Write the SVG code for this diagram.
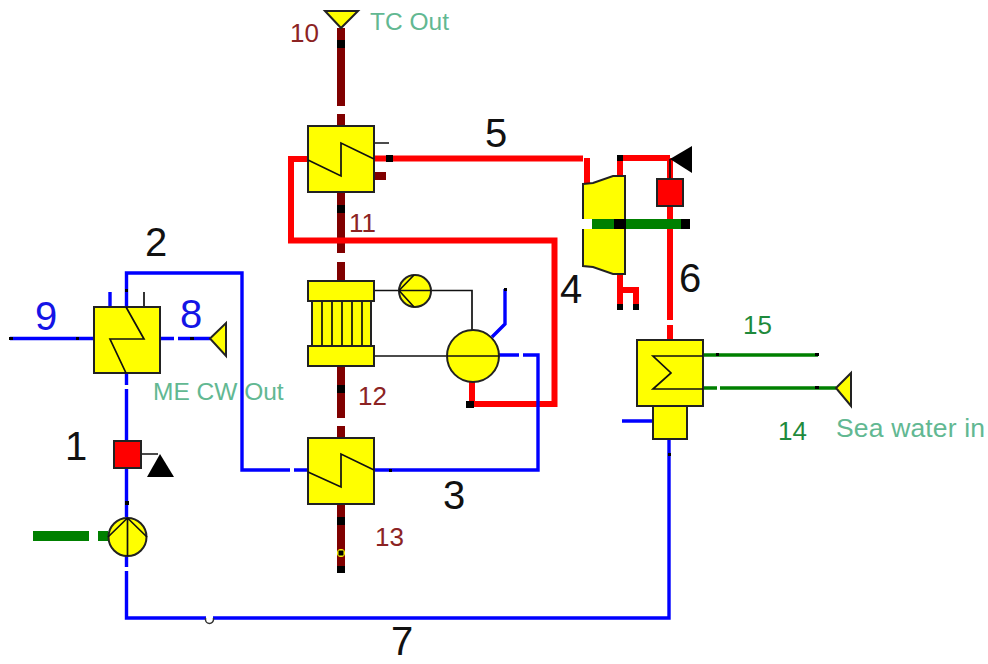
<svg xmlns="http://www.w3.org/2000/svg" width="988" height="664" viewBox="0 0 988 664">
<style>
text{font-family:"Liberation Sans",Arial,sans-serif}
.big{font-size:40px;fill:#111}
.bl{font-size:40px;fill:#1414e6}
.dr{font-size:26px;fill:#8c2323}
.gn{font-size:26px;fill:#1f8a3c}
.lb{font-size:24.500px;fill:#62b892}
.eq{fill:#ff0;stroke:#222;stroke-width:2}
.v{fill:#f00;stroke:#222;stroke-width:2}
.t{fill:none;stroke:#111;stroke-width:1.700}
.blue{fill:none;stroke:#00f;stroke-width:3.400}
.red{fill:none;stroke:#f00;stroke-width:6}
.dred{fill:none;stroke:#800000;stroke-width:8}
.grn{fill:none;stroke:#008000;stroke-width:3.400}
.gth{fill:none;stroke:#008000;stroke-width:10}
.k{fill:#000}
</style>
<g id="connectors">
<path class="dred" d="M341 28V106M341 114V126M341 192V253M341 262V281M341 366V418M341 426V438M341 504V573"/>
<path class="red" d="M374 158.500H583M587 158V184M308 159H291V240.500H554.500V404H472V382M620 176V158H670M670 158V340"/>
<rect x="664" y="320" width="12" height="5" fill="#fff"/>
<path class="red" d="M620 274V310M620 290H636V310"/>
<path class="dred" d="M374 176H386"/>
<path class="t" d="M374 143H389M374 290.500H472V330M374 356H446M141 454H158M144 307V292M670 159V179"/>
<path class="blue" d="M10 338.500H94M160 338.500H174M178 338.500H210M110 307V292M126.500 307V273H242V470H290M294 470H308M374 470H538V355H523M519 355H499M492 337L505 324V289M126.500 373V385M126.500 389V441M126.500 468V517M126.500 556V567M126.500 571V618H206M213 618H669V439M622 421H653"/>
<path d="M205.500 618v1.500a3.500 3.500 0 0 0 8 0v-1.500" fill="#fff" stroke="#333" stroke-width="1.500"/>
<path class="grn" d="M703 355H818M703 388H717M720 388H836"/>
<path class="gth" d="M33 536H89M98 536H108"/>
<path class="k" d="M337 40h8v8h-8zM337 205h8v8h-8zM337 385h8v8h-8zM337 517h8v8h-8zM337 566h8v7h-8zM386 155h7v7h-7zM466 401h8v7h-8zM617 155h6v6h-6zM617 304h6v6h-6zM633 304h6v6h-6zM125 289h3v3h-3zM9 337h4v3h-4zM76 337h3v3h-3zM190 337h4v3h-4zM125 501h4v4h-4zM389 469h3v3h-3zM504 288h3v3h-3zM716 353h3v3h-3zM815 353h4v3h-4zM815 386h4v3h-4zM668 453h3v3h-3z"/>
<circle cx="341" cy="553" r="4" fill="#ff0"/><rect x="338.500" y="550.500" width="5" height="5" fill="#000"/>
</g>
<g id="sink-tc-out"><path class="eq" d="M325 11H358L341 28Z"/></g>
<g id="hx-upper"><rect class="eq" x="308" y="126" width="66" height="66"/><path class="t" d="M308 160L341 176V143L374 159"/></g>
<g id="cooler">
<rect class="eq" x="312" y="300" width="59" height="46"/>
<path class="t" d="M322 300V346M332 300V346M342 300V346M352 300V346M362 300V346"/>
<rect class="eq" x="308" y="281" width="66" height="20"/>
<rect class="eq" x="308" y="346" width="66" height="20"/>
</g>
<g id="small-pump"><circle class="eq" cx="415" cy="291" r="16"/><path class="t" d="M399 290.500H431M399 290.500L414 275M399 290.500L414 307"/></g>
<g id="drum"><circle class="eq" cx="473" cy="356" r="26"/><path class="t" d="M447 356H499"/></g>
<g id="hx-lower"><rect class="eq" x="308" y="438" width="66" height="66"/><path class="t" d="M308 472L341 487V454L374 470"/></g>
<g id="hx-left"><rect class="eq" x="94" y="307" width="66" height="66"/><path class="t" d="M126 307L144 339H110L126 373"/></g>
<g id="sink-me-cw"><path class="eq" d="M210 338.500L226 323V356Z"/></g>
<g id="valve-1"><rect class="v" x="114" y="441" width="27" height="27"/></g>
<g id="actuator-1"><path class="k" d="M147 477L160 454L174 477Z"/></g>
<g id="pump-1"><circle class="eq" cx="127.500" cy="537" r="19"/><path class="t" d="M127.500 518V556M127.500 518L108 537M127.500 518L147 537"/></g>
<g id="turbine"><path class="eq" d="M583 184L593 183L613 176H625V274H613L593 267L583 266Z"/><rect x="581" y="219" width="12" height="10" fill="#fff"/></g>
<g id="shaft"><path class="gth" d="M592 224H690"/><path class="k" d="M614 219h12v10h-12zM681 219h9v10h-9z"/></g>
<g id="valve-6"><rect class="v" x="657" y="179" width="26" height="27"/></g>
<g id="actuator-6"><path class="k" d="M670 159L692 146V173Z"/></g>
<g id="condenser"><rect class="eq" x="653" y="406" width="34" height="33"/><rect class="eq" x="637" y="340" width="66" height="66"/><path class="t" d="M703 356H653L671 373L653 389H703"/></g>
<g id="sink-sea"><path class="eq" d="M836 388L851 373V406Z"/></g>
<g id="labels">
<text class="dr" x="290" y="42">10</text>
<text class="lb" x="370" y="30">TC Out</text>
<text class="big" x="485" y="147">5</text>
<text class="dr" x="349" y="232">11</text>
<text class="big" x="145" y="256">2</text>
<text class="bl" x="35" y="330">9</text>
<text class="bl" x="180" y="328">8</text>
<text class="lb" x="153" y="400">ME CW Out</text>
<text class="big" x="65" y="460">1</text>
<text class="dr" x="358" y="405">12</text>
<text class="dr" x="375" y="546">13</text>
<text class="big" x="443" y="509">3</text>
<text class="big" x="560" y="303">4</text>
<text class="big" x="679" y="292">6</text>
<text class="gn" x="743" y="334">15</text>
<text class="gn" x="778" y="440">14</text>
<text class="lb" x="836" y="437" style="font-size:26.500px" textLength="149" lengthAdjust="spacing">Sea water in</text>
<text class="big" x="391" y="655">7</text>
</g>
</svg>
